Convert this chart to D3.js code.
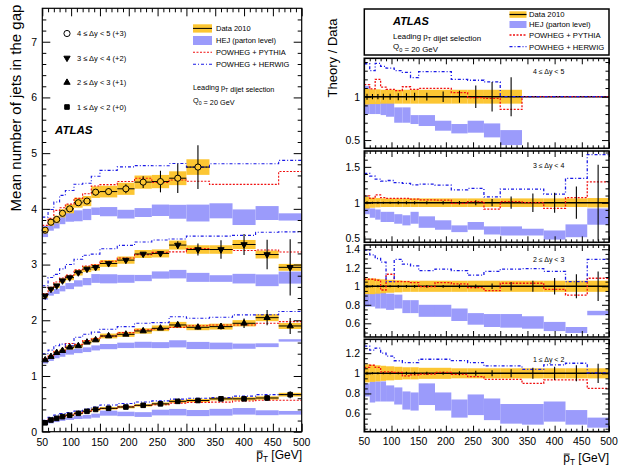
<!DOCTYPE html>
<html><head><meta charset="utf-8">
<script src="https://cdn.jsdelivr.net/npm/d3@7"></script>
<style>body{margin:0;background:#fff}svg{display:block}text{font-family:"Liberation Sans",Arial,Helvetica,sans-serif;fill:#000}</style>
</head><body><svg id="c" width="619" height="468"></svg>
<script>
// ---------------- DATA ----------------
const binEdges = [50,60,70,80,90,105,120,135,150,180,210,240,270,300,340,380,420,460,500];
const xTickValues = [50,100,150,200,250,300,350,400,450,500];
const leftYTicks = [0,1,2,3,4,5,6,7];
const groupLabels = ["4 ≤ Δy < 5","3 ≤ Δy < 4","2 ≤ Δy < 3","1 ≤ Δy < 2"];
const offsetLabels = ["(+3)","(+2)","(+1)","(+0)"];
const groupOffsets = [3,2,1,0];

// measured mean number of jets in the gap (without offset)
const data45 = [0.617,0.76,0.81,0.92,1.00,1.11,1.14,1.30,1.31,1.36,1.48,1.49,1.55,1.75];
const data34 = [0.44,0.56,0.62,0.71,0.765,0.855,0.92,0.95,1.02,1.08,1.19,1.20,1.35,1.27,1.27,1.36,1.18,0.95];
const data23 = [0.287,0.347,0.418,0.454,0.515,0.54,0.605,0.646,0.718,0.748,0.808,0.856,0.916,0.874,0.886,0.946,1.047,0.898];
const data12 = [0.16,0.21,0.24,0.27,0.295,0.33,0.366,0.40,0.42,0.443,0.474,0.50,0.545,0.56,0.59,0.59,0.605,0.665];

// relative statistical / systematic uncertainties
const stat45 = [0.035,0.03,0.03,0.035,0.035,0.04,0.04,0.045,0.045,0.06,0.07,0.13,0.17,0.225];
const stat34 = [0.02,0.015,0.015,0.015,0.015,0.02,0.02,0.02,0.02,0.025,0.025,0.035,0.05,0.085,0.13,0.14,0.225,0.53];
const stat23 = [0.015,0.01,0.01,0.01,0.01,0.015,0.015,0.015,0.015,0.015,0.02,0.02,0.03,0.045,0.06,0.09,0.13,0.16];
const stat12 = [0.015,0.01,0.01,0.01,0.01,0.01,0.015,0.015,0.015,0.015,0.02,0.025,0.03,0.04,0.055,0.066,0.08,0.095];
const syst45 = [0.09,0.085,0.085,0.08,0.08,0.08,0.08,0.08,0.08,0.08,0.08,0.08,0.08,0.08];
const syst34 = [0.08,0.07,0.065,0.06,0.06,0.06,0.06,0.06,0.06,0.06,0.06,0.06,0.06,0.06,0.06,0.06,0.06,0.065];
const syst23 = [0.085,0.085,0.08,0.075,0.07,0.065,0.06,0.06,0.06,0.06,0.06,0.06,0.06,0.06,0.06,0.06,0.06,0.06];
const syst12 = [0.09,0.085,0.08,0.075,0.07,0.065,0.06,0.06,0.055,0.055,0.05,0.05,0.05,0.05,0.05,0.05,0.05,0.05];

// theory / data ratios
const hejLo45 = [0.80,0.80,0.80,0.788,0.769,0.70,0.70,0.685,0.662,0.608,0.577,0.585,0.531,0.442];
const hejHi45 = [1.123,0.942,0.942,0.942,0.931,0.877,0.877,0.788,0.788,0.723,0.685,0.723,0.692,0.615];
const pythia45 = [1.14,1.09,1.20,1.11,1.085,1.07,1.115,1.085,1.096,1.096,1.046,0.99,0.98,0.854,1,1,1,1];
const herwig45 = [1.38,1.30,1.385,1.35,1.33,1.30,1.28,1.22,1.29,1.29,1.20,1.19,1.17,1.0,1,1,1,1];

const hejLo34 = [0.84,0.79,0.764,0.731,0.731,0.707,0.684,0.707,0.65,0.623,0.59,0.623,0.557,0.543,0.543,0.486,0.519,0.693];
const hejHi34 = [0.95,0.92,0.906,0.873,0.873,0.84,0.825,0.873,0.81,0.755,0.684,0.731,0.67,0.67,0.637,0.613,0.698,0.92];
const pythia34 = [1.095,1.06,1.11,1.07,1.06,1.06,1.06,1.05,1.04,1.035,0.99,1.015,0.91,1.015,1.0,0.92,1.07,1.29];
const herwig34 = [1.41,1.37,1.33,1.30,1.31,1.28,1.27,1.25,1.26,1.245,1.18,1.20,1.08,1.19,1.19,1.12,1.34,1.67];

const hejLo23 = [0.78,0.78,0.76,0.76,0.745,0.76,0.71,0.71,0.67,0.67,0.625,0.585,0.56,0.553,0.542,0.516,0.495,0.687];
const hejHi23 = [0.92,0.92,0.935,0.935,0.92,0.91,0.85,0.85,0.80,0.80,0.76,0.71,0.70,0.70,0.676,0.615,0.56,0.735];
const pythia23 = [1.076,1.076,1.065,0.96,1.13,1.05,1.05,1.04,0.996,1.04,1.025,0.985,0.953,1.033,1.033,0.967,0.905,1.087];
const herwig23 = [1.39,1.34,1.30,1.26,1.05,1.29,1.24,1.22,1.17,1.185,1.17,1.12,1.16,1.185,1.19,1.16,1.05,1.29];

const hejLo12 = [0.77,0.71,0.72,0.72,0.72,0.69,0.64,0.63,0.685,0.63,0.56,0.585,0.535,0.50,0.49,0.52,0.49,0.46];
const hejHi12 = [0.90,0.92,0.92,0.92,0.88,0.86,0.82,0.81,0.90,0.81,0.74,0.79,0.75,0.695,0.695,0.72,0.635,0.56];
const pythia12 = [1.06,1.08,1.06,1.015,1.015,1.01,0.975,0.985,0.993,1.01,0.99,0.967,0.94,0.94,0.90,0.934,0.934,0.85];
const herwig12 = [1.27,1.23,1.25,1.20,1.17,1.125,1.106,1.106,1.14,1.14,1.126,1.106,1.073,1.073,1.04,1.083,1.10,1.005];

// 4<=dy<5 theory predictions beyond the last data bin (absolute, no offset)
const hejLoTail45 = [0.83,0.71,0.80,0.79];
const hejHiTail45 = [1.10,0.99,1.05,0.92];
const pythiaTail45 = [1.44,1.44,1.44,1.67];
const herwigTail45 = [1.81,1.81,1.81,1.87];

// ratio panel axis settings
const ratioDomains = [[0.405,1.443],[0.448,1.721],[0.452,1.446],[0.42,1.338]];
const ratioTicks = [[0.5,1],[0.5,1,1.5],[0.6,0.8,1,1.2,1.4],[0.6,0.8,1,1.2]];

// ---------------- SETUP ----------------
const svg = d3.select("#c");
const YEL = "#fcc633", HEJC = "#9b9bfb", RED = "#f01010", BLU = "#1a1ae6";
const groups = [0,1,2,3].map(i => ({
  label: groupLabels[i], off: groupOffsets[i],
  data: [data45,data34,data23,data12][i],
  stat: [stat45,stat34,stat23,stat12][i],
  syst: [syst45,syst34,syst23,syst12][i],
  hejLo: [hejLo45,hejLo34,hejLo23,hejLo12][i],
  hejHi: [hejHi45,hejHi34,hejHi23,hejHi12][i],
  pythia: [pythia45,pythia34,pythia23,pythia12][i],
  herwig: [herwig45,herwig34,herwig23,herwig12][i]
}));

const xL = d3.scaleLinear().domain([50,500]).range([42.3,301.7]);
const yL = d3.scaleLinear().domain([0,7.6]).range([431.7,8.3]);
const xR = d3.scaleLinear().domain([50,500]).range([364.3,609]);
const panelPix = [[58.3,148.3],[151,242.3],[245,337],[339.3,431.7]];

const stepLine = (x,y) => d3.line().x(d=>x(d[0])).y(d=>y(d[1])).curve(d3.curveStepAfter);
function stepPts(vals){ const p = vals.map((v,i)=>[binEdges[i],v]); p.push([binEdges[vals.length], vals[vals.length-1]]); return p; }

function ticks(g, x, y, xMaj, xMin, yMaj, yMin, lx, lxm, ly, lym, sw){
  const [yb, yt] = y.range(), [xl, xr] = x.range();
  const add = (ax, tr) => g.append("g").attr("transform", tr).call(ax)
      .call(s=>{ s.select(".domain").remove(); s.selectAll("line").attr("stroke","#000").attr("stroke-width",sw); });
  add(d3.axisBottom(x).tickValues(xMaj).tickSize(-lx).tickFormat(""), `translate(0,${yb})`);
  add(d3.axisBottom(x).tickValues(xMin).tickSize(-lxm).tickFormat(""), `translate(0,${yb})`);
  add(d3.axisTop(x).tickValues(xMaj).tickSize(-lx).tickFormat(""), `translate(0,${yt})`);
  add(d3.axisTop(x).tickValues(xMin).tickSize(-lxm).tickFormat(""), `translate(0,${yt})`);
  add(d3.axisLeft(y).tickValues(yMaj).tickSize(-ly).tickFormat(""), `translate(${xl},0)`);
  add(d3.axisLeft(y).tickValues(yMin).tickSize(-lym).tickFormat(""), `translate(${xl},0)`);
  add(d3.axisRight(y).tickValues(yMaj).tickSize(-ly).tickFormat(""), `translate(${xr},0)`);
  add(d3.axisRight(y).tickValues(yMin).tickSize(-lym).tickFormat(""), `translate(${xr},0)`);
}
const xMinorVals = d3.range(60,500,10).filter(v=>v%50!==0);

function ptLabel(xEnd, yBase, size){
  const t = svg.append("text").attr("x",xEnd).attr("y",yBase).attr("text-anchor","end").attr("font-size",size);
  t.append("tspan").text("p");
  t.append("tspan").attr("font-size",size*0.68).attr("dy",size*0.28).text("T");
  t.append("tspan").attr("dy",-size*0.28).text(" [GeV]");
  const n = t.node();
  const a = n.getStartPositionOfChar(0).x, b = n.getEndPositionOfChar(0).x;
  svg.append("line").attr("x1",a+0.5).attr("x2",b-0.3).attr("y1",yBase-size*0.66).attr("y2",yBase-size*0.66).attr("stroke","#000").attr("stroke-width",0.9);
}
function subText(g, x, y, size, parts){
  const t = g.append("text").attr("x",x).attr("y",y).attr("font-size",size);
  parts.forEach(p => { if (p.sub) { t.append("tspan").attr("font-size",size*0.7).attr("dy",size*0.3).text(p.t); t.append("tspan").attr("dy",-size*0.3).text(""); } else t.append("tspan").text(p.t); });
  return t;
}

// ---------------- LEFT PANEL ----------------
const gl = svg.append("g");
const layH = gl.append("g"), layY = gl.append("g"), layT = gl.append("g"), layD = gl.append("g");
const symbols = [
  d3.symbol().type(d3.symbolCircle).size(30)(),
  d3.symbol().type(d3.symbolTriangle).size(17)(),
  d3.symbol().type(d3.symbolTriangle).size(17)(),
  d3.symbol().type(d3.symbolSquare).size(21)()
];
const symRot = [0,180,0,0];
const symFill = [YEL,"#000","#000","#000"];

groups.forEach((G,gi) => {
  let hejLoAbs = G.hejLo.map((r,i)=>r*G.data[i]), hejHiAbs = G.hejHi.map((r,i)=>r*G.data[i]);
  let pyAbs = G.data.map((d,i)=>G.pythia[i]*d), hwAbs = G.data.map((d,i)=>G.herwig[i]*d);
  if (gi===0){ hejLoAbs = hejLoAbs.concat(hejLoTail45); hejHiAbs = hejHiAbs.concat(hejHiTail45); pyAbs = pyAbs.concat(pythiaTail45); hwAbs = hwAbs.concat(herwigTail45); }
  hejLoAbs.forEach((lo,i)=>{
    layH.append("rect").attr("x",xL(binEdges[i])).attr("width",xL(binEdges[i+1])-xL(binEdges[i]))
      .attr("y",yL(hejHiAbs[i]+G.off)).attr("height",yL(lo+G.off)-yL(hejHiAbs[i]+G.off)).attr("fill",HEJC);
  });
  G.data.forEach((d,i)=>{
    const s = G.syst[i]*d;
    layY.append("rect").attr("x",xL(binEdges[i])).attr("width",xL(binEdges[i+1])-xL(binEdges[i]))
      .attr("y",yL(d+s+G.off)).attr("height",yL(d-s+G.off)-yL(d+s+G.off)).attr("fill",YEL);
  });
  layT.append("path").attr("d",stepLine(xL,yL)(stepPts(pyAbs.map(v=>v+G.off)))).attr("fill","none")
    .attr("stroke",RED).attr("stroke-width",1.1).attr("stroke-dasharray","2,1.5");
  layT.append("path").attr("d",stepLine(xL,yL)(stepPts(hwAbs.map(v=>v+G.off)))).attr("fill","none")
    .attr("stroke",BLU).attr("stroke-width",1.1).attr("stroke-dasharray","3,2,1,2");
  G.data.forEach((d,i)=>{
    const c = (binEdges[i]+binEdges[i+1])/2, e = G.stat[i]*d;
    layD.append("line").attr("x1",xL(binEdges[i])).attr("x2",xL(binEdges[i+1])).attr("y1",yL(d+G.off)).attr("y2",yL(d+G.off)).attr("stroke","#000").attr("stroke-width",1);
    layD.append("line").attr("x1",xL(c)).attr("x2",xL(c)).attr("y1",yL(d+e+G.off)).attr("y2",yL(d-e+G.off)).attr("stroke","#000").attr("stroke-width",1.1);
    layD.append("path").attr("d",symbols[gi]).attr("transform",`translate(${xL(c)},${yL(d+G.off)}) rotate(${symRot[gi]})`)
      .attr("fill",symFill[gi]).attr("stroke","#000").attr("stroke-width",1);
  });
});
gl.append("rect").attr("x",42.3).attr("y",8.3).attr("width",301.7-42.3).attr("height",431.7-8.3).attr("fill","none").attr("stroke","#000").attr("stroke-width",1.2);
ticks(gl, xL, yL, xTickValues, xMinorVals, leftYTicks, d3.range(0.2,7.6,0.2).filter(v=>Math.abs(v-Math.round(v))>0.01), 8, 4, 8, 4, 1);
xTickValues.forEach(v=> gl.append("text").attr("x",xL(v)).attr("y",445.5).attr("text-anchor","middle").attr("font-size",10.5).text(v));
leftYTicks.forEach(v=> gl.append("text").attr("x",37).attr("y",yL(v)+3.8).attr("text-anchor","end").attr("font-size",10.5).text(v));
svg.append("text").attr("transform","translate(21,108) rotate(-90)").attr("text-anchor","middle").attr("font-size",15).text("Mean number of jets in the gap");
ptLabel(302, 459, 12);

// left legends
const legY = [33.5,58,82.5,107];
groups.forEach((G,gi)=>{
  gl.append("path").attr("d",symbols[gi]).attr("transform",`translate(67,${legY[gi]}) rotate(${symRot[gi]})`).attr("fill",gi===0?"none":"#000").attr("stroke","#000").attr("stroke-width",1);
  gl.append("text").attr("x",77).attr("y",legY[gi]+2.7).attr("font-size",7.5).text(G.label+" "+offsetLabels[gi]);
});
gl.append("text").attr("x",55).attr("y",133.5).attr("font-size",11.5).attr("font-weight","bold").attr("font-style","italic").text("ATLAS");
gl.append("rect").attr("x",193).attr("y",24.3).attr("width",19).attr("height",8.3).attr("fill",YEL);
gl.append("line").attr("x1",193).attr("x2",212).attr("y1",28.4).attr("y2",28.4).attr("stroke","#000").attr("stroke-width",1);
gl.append("rect").attr("x",193).attr("y",36).attr("width",19).attr("height",9).attr("fill",HEJC);
gl.append("line").attr("x1",193).attr("x2",212).attr("y1",52.3).attr("y2",52.3).attr("stroke",RED).attr("stroke-width",1.1).attr("stroke-dasharray","2,1.5");
gl.append("line").attr("x1",193).attr("x2",212).attr("y1",64.3).attr("y2",64.3).attr("stroke",BLU).attr("stroke-width",1.1).attr("stroke-dasharray","3,2,1,2");
[["Data 2010",28.4],["HEJ (parton level)",40.5],["POWHEG + PYTHIA",52.3],["POWHEG + HERWIG",64.3]].forEach(([t,y])=>
  gl.append("text").attr("x",216).attr("y",y+2.7).attr("font-size",7.5).text(t));
subText(gl,193,89.5,7.3,[{t:"Leading p"},{t:"T",sub:true},{t:" dijet selection"}]);
subText(gl,193,102.5,7.3,[{t:"Q"},{t:"0",sub:true},{t:" = 20 GeV"}]);

// ---------------- RIGHT PANELS ----------------
const gr = svg.append("g");
gr.append("rect").attr("x",364.3).attr("y",9).attr("width",609-364.3).attr("height",46).attr("fill","#fff").attr("stroke","#000").attr("stroke-width",1.5);
gr.append("text").attr("x",393).attr("y",24.8).attr("font-size",11).attr("font-weight","bold").attr("font-style","italic").text("ATLAS");
subText(gr,393,38.5,7.9,[{t:"Leading p"},{t:"T",sub:true},{t:" dijet selection"}]);
subText(gr,393,49.3,7.9,[{t:"Q"},{t:"0",sub:true},{t:" = 20 GeV"}]);
gr.append("rect").attr("x",509.5).attr("y",11.3).attr("width",17).attr("height",6.5).attr("fill",YEL);
gr.append("line").attr("x1",509.5).attr("x2",526.5).attr("y1",14.5).attr("y2",14.5).attr("stroke","#000").attr("stroke-width",1.2);
gr.append("rect").attr("x",509.5).attr("y",21).attr("width",17).attr("height",7).attr("fill",HEJC);
gr.append("line").attr("x1",509.5).attr("x2",526.5).attr("y1",35).attr("y2",35).attr("stroke",RED).attr("stroke-width",1.3).attr("stroke-dasharray","2,1.5");
gr.append("line").attr("x1",509.5).attr("x2",526.5).attr("y1",46.7).attr("y2",46.7).attr("stroke",BLU).attr("stroke-width",1.3).attr("stroke-dasharray","3,2,1,2");
[["Data 2010",14.4],["HEJ (parton level)",24.4],["POWHEG + PYTHIA",35],["POWHEG + HERWIG",46.7]].forEach(([t,y])=>
  gr.append("text").attr("x",529).attr("y",y+2.8).attr("font-size",7.7).text(t));

groups.forEach((G,gi)=>{
  const [pt,pb] = panelPix[gi];
  const y = d3.scaleLinear().domain(ratioDomains[gi]).range([pb,pt]);
  const g = gr.append("g");
  const cid = "clip"+gi;
  g.append("clipPath").attr("id",cid).append("rect").attr("x",364.3).attr("y",pt).attr("width",609-364.3).attr("height",pb-pt);
  const inner = g.append("g").attr("clip-path",`url(#${cid})`);
  G.hejLo.forEach((lo,i)=>{
    inner.append("rect").attr("x",xR(binEdges[i])).attr("width",xR(binEdges[i+1])-xR(binEdges[i]))
      .attr("y",y(G.hejHi[i])).attr("height",y(lo)-y(G.hejHi[i])).attr("fill",HEJC);
  });
  G.data.forEach((d,i)=>{
    const s = G.syst[i];
    inner.append("rect").attr("x",xR(binEdges[i])).attr("width",xR(binEdges[i+1])-xR(binEdges[i]))
      .attr("y",y(1+s)).attr("height",y(1-s)-y(1+s)).attr("fill",YEL);
  });
  inner.append("line").attr("x1",xR(50)).attr("x2",xR(500)).attr("y1",y(1)).attr("y2",y(1)).attr("stroke","#000").attr("stroke-width",1.5);
  inner.append("path").attr("d",stepLine(xR,y)(stepPts(G.pythia))).attr("fill","none").attr("stroke",RED).attr("stroke-width",1.3).attr("stroke-dasharray","2,1.5");
  inner.append("path").attr("d",stepLine(xR,y)(stepPts(G.herwig))).attr("fill","none").attr("stroke",BLU).attr("stroke-width",1.3).attr("stroke-dasharray","3,2,1,2");
  G.data.forEach((d,i)=>{
    const c = (binEdges[i]+binEdges[i+1])/2, e = G.stat[i];
    inner.append("line").attr("x1",xR(c)).attr("x2",xR(c)).attr("y1",y(1+e)).attr("y2",y(1-e)).attr("stroke","#000").attr("stroke-width",1.1);
  });
  g.append("rect").attr("x",364.3).attr("y",pt).attr("width",609-364.3).attr("height",pb-pt).attr("fill","none").attr("stroke","#000").attr("stroke-width",1.6);
  const maj = ratioTicks[gi];
  const step = gi<2 ? 0.1 : 0.05;
  const mins = d3.range(Math.ceil(ratioDomains[gi][0]/step)*step, ratioDomains[gi][1], step).filter(v=>!maj.some(m=>Math.abs(m-v)<1e-6));
  ticks(g, xR, y, xTickValues, xMinorVals, maj, mins, 6, 3, 7, 3.5, 1);
  maj.forEach(v=> g.append("text").attr("x",360).attr("y",y(v)+3.8).attr("text-anchor","end").attr("font-size",10.5).text(v));
  g.append("text").attr("x",533).attr("y",[71,165,259,359][gi]+2.5).attr("font-size",7).text(G.label);
});
xTickValues.forEach(v=> gr.append("text").attr("x",xR(v)).attr("y",444.5).attr("text-anchor","middle").attr("font-size",10.5).text(v));
svg.append("text").attr("transform","translate(337,58) rotate(-90)").attr("text-anchor","middle").attr("font-size",13).text("Theory / Data");
ptLabel(609, 462, 12);
</script></body></html>
